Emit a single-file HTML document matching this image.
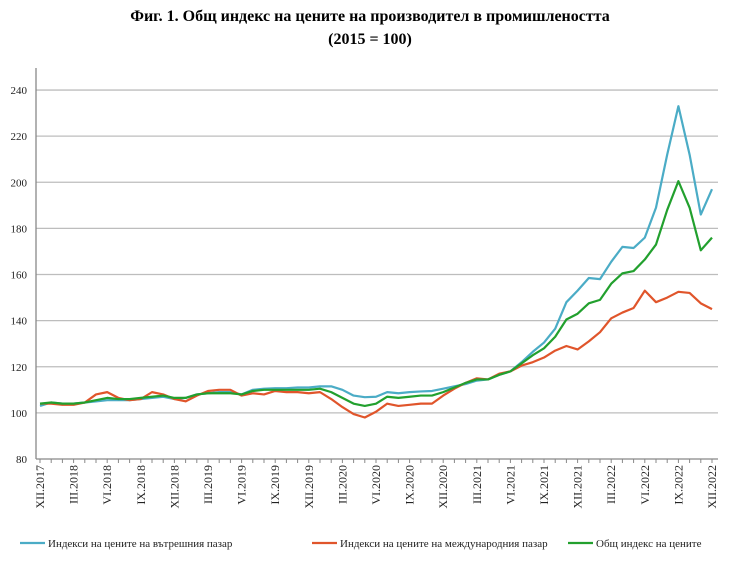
<!DOCTYPE html>
<html><head><meta charset="utf-8"><style>
body{margin:0;background:#fff;width:740px;height:570px;overflow:hidden;font-family:"Liberation Serif",serif}
.t{position:absolute;left:0;width:740px;text-align:center;font-weight:bold;font-size:16px}
</style></head><body>
<div class="t" style="top:8px">Фиг. 1. Общ индекс на цените на производител в промишлеността</div>
<div class="t" style="top:31px">(2015 = 100)</div>
<svg id="c" width="740" height="570" style="position:absolute;left:0;top:0"></svg>
<script>
const months=["I","II","III","IV","V","VI","VII","VIII","IX","X","XI","XII"];
const domestic=[103,104.5,104,104,104.5,105,105.5,105.5,105.5,106,106.5,107,106,
106.5,108,108.5,109,109,108,110,110.5,110.7,110.7,111,111,
111.5,111.5,110,107.5,106.8,107,109,108.5,109,109.3,109.5,110.5,
111.5,112.5,114,114.5,116.5,118,122,126.5,130.5,136.5,148,153,
158.5,158,165.5,172,171.5,176,189,212,233,212,186,197];
const international=[104,104,103.5,103.5,104.5,108,109,106.5,105.5,106,109,108,106,
105,107.5,109.5,110,110,107.5,108.5,108,109.5,109,109,108.5,
109,106,102.5,99.5,98,100.5,104,103,103.5,104,104,107.5,
110.5,113,115,114.5,117,118,120.5,122,124,127,129,127.5,
131,135,141,143.5,145.5,153,148,150,152.5,152,147.5,145];
const total=[104,104.5,104,104,104.5,105.5,106.5,106,106,106.5,107,107.5,106.5,
106.5,108,108.5,108.5,108.5,108,109.5,110,110,110,110,110,
110.5,109,106.5,104,103,104,107,106.5,107,107.5,107.5,109,
111,113,114.5,114.5,116.5,118,121.5,125,128,133,140.5,143,
147.5,149,156,160.5,161.5,166.5,173,188,200.5,189,170.5,176];
const yTicks=[80,100,120,140,160,180,200,220,240];
const NS="http://www.w3.org/2000/svg",svg=document.getElementById('c');
const X=i=>40+11.2*i, Y=v=>459-(v-80)*2.306;
function mk(t,a,p){const e=document.createElementNS(NS,t);for(const k in a)e.setAttribute(k,a[k]);(p||svg).appendChild(e);return e;}
yTicks.forEach(v=>{
 if(v>80){const g=mk('line',{x1:36,x2:718,y1:Y(v),y2:Y(v),stroke:'#bdbdbd','stroke-width':1.3});
 
 }
 const t=mk('text',{x:27,y:Y(v)+4,'text-anchor':'end','font-size':11,fill:'#222'});t.textContent=v;
 
 
});
const ax=mk('line',{x1:36,x2:36,y1:68,y2:459,stroke:'#888','stroke-width':1.3});


const xa=mk('line',{x1:36,x2:718,y1:459,y2:459,stroke:'#888','stroke-width':1.3});


for(let i=0;i<domestic.length;i++){
 const tk=mk('line',{x1:X(i),x2:X(i),y1:459,y2:463,stroke:'#888'});
 
 
 if(i%3==0){const m=(11+i)%12,yr=2017+Math.floor((11+i)/12);
  const t=mk('text',{transform:`translate(${X(i)+4},465) rotate(-90)`,'text-anchor':'end','font-size':12,fill:'#222'});
  t.textContent=months[m]+'.'+yr;
  
  }
}
function line(d,c,n){const p=mk('polyline',{points:d.map((v,i)=>X(i)+','+Y(v)).join(' '),fill:'none',stroke:c,'stroke-width':2.2,'stroke-linejoin':'round'});
 
 }
line(domestic,'#4bacc6','domestic-series');
line(international,'#e0552b','international-series');
line(total,'#22a02e','total-series');
const leg=[['Индекси на цените на вътрешния пазар','#4bacc6',20],['Индекси на цените на международния пазар','#e0552b',312],['Общ индекс на цените','#22a02e',568]];
leg.forEach(l=>{const g=mk('g',{});
 
 
 mk('line',{x1:l[2],x2:l[2]+25,y1:543,y2:543,stroke:l[1],'stroke-width':2.2},g);
 const t=mk('text',{x:l[2]+28,y:547,'font-size':11,fill:'#222'},g);t.textContent=l[0];});
</script>
</body></html>
